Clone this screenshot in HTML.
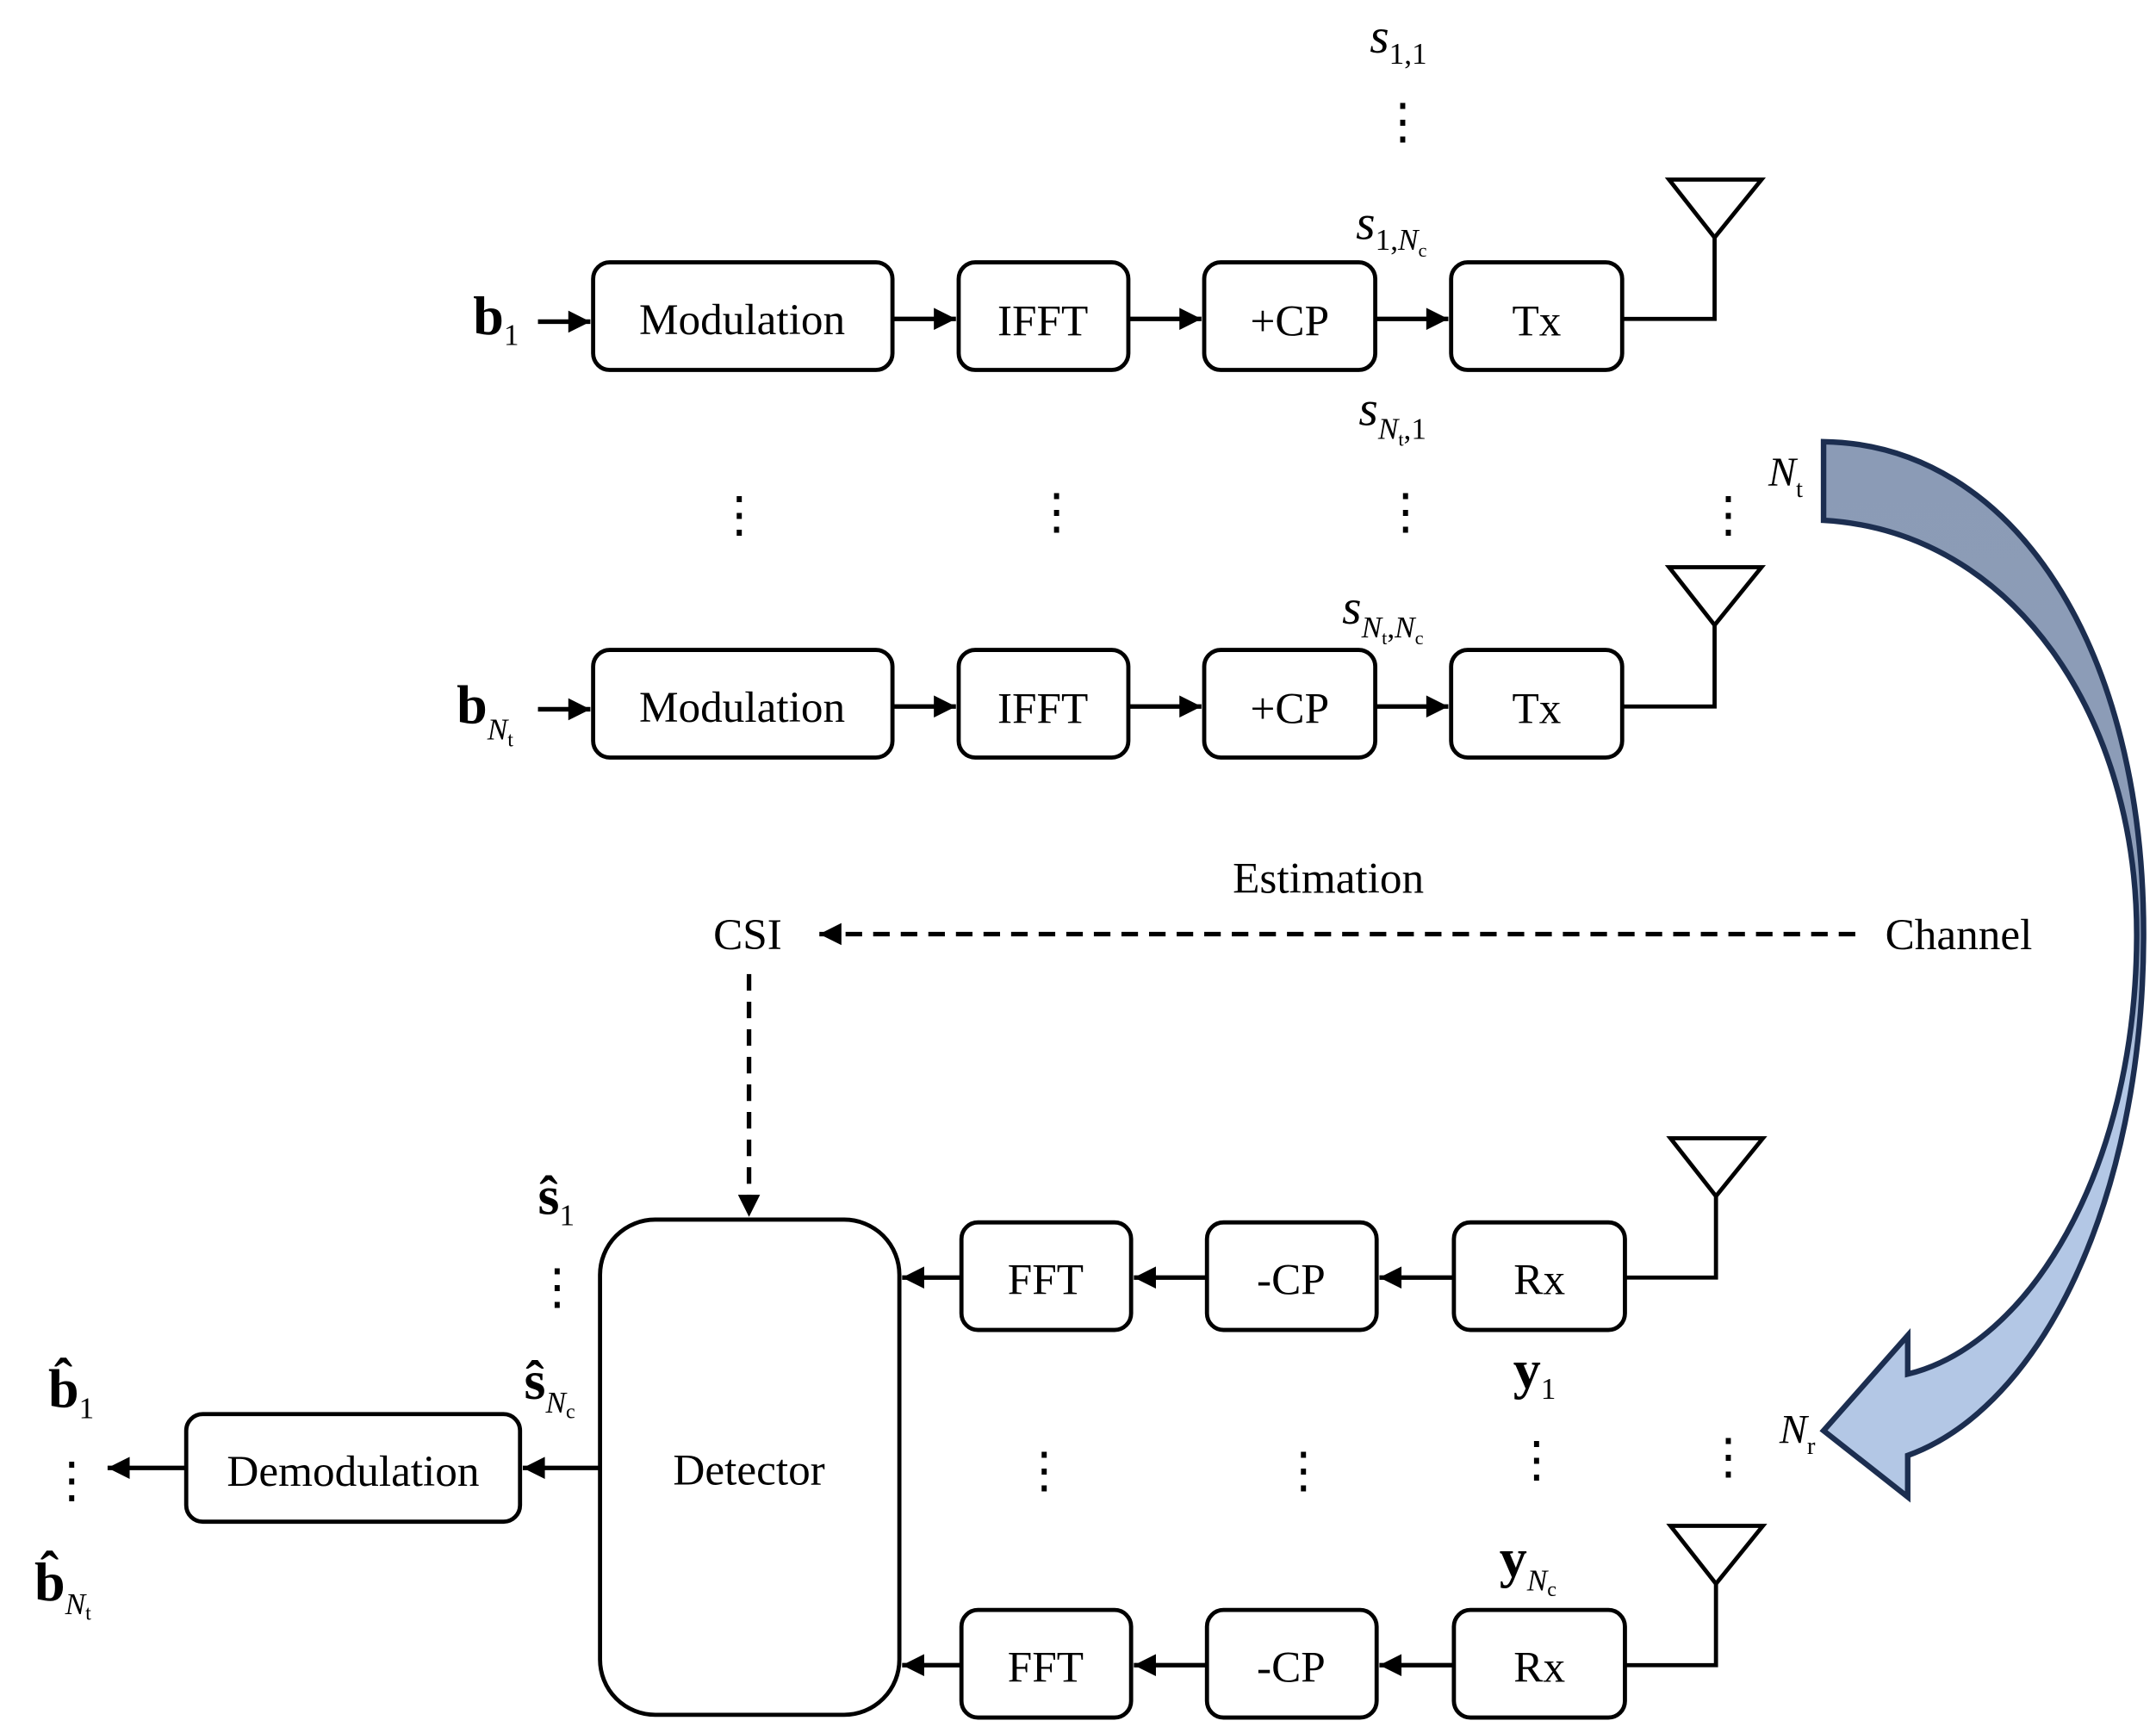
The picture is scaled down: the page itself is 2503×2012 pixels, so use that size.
<!DOCTYPE html>
<html><head><meta charset="utf-8"><style>
html,body{margin:0;padding:0;background:#fff}
svg{display:block}
text{font-family:"Liberation Serif",serif;fill:#000}
.b{font-size:32px}
.m{font-size:36px;font-style:italic}
.bb{font-size:40px;font-weight:bold}
.sub{font-size:22px}
</style></head><body>
<svg width="2503" height="2012" viewBox="0 0 1563 1256" xmlns="http://www.w3.org/2000/svg">
<defs>
<marker id="a2" viewBox="0 0 10 10" refX="10" refY="5" markerWidth="20" markerHeight="16" orient="auto" markerUnits="userSpaceOnUse"><path d="M0,0 L10,5 L0,10 Z" fill="#000"/></marker>
<linearGradient id="g" x1="0" y1="0" x2="0" y2="1"><stop offset="0" stop-color="#8b9bb6"/><stop offset="0.45" stop-color="#8d9db8"/><stop offset="0.6" stop-color="#b3c7e5"/><stop offset="1" stop-color="#b3c7e5"/></linearGradient>
</defs>
<g fill="none" stroke="#000" stroke-width="3">
<rect x="430" y="190" width="217" height="78" rx="12"/>
<rect x="695" y="190" width="123" height="78" rx="12"/>
<rect x="873" y="190" width="124" height="78" rx="12"/>
<rect x="1052" y="190" width="124" height="78" rx="12"/>
<rect x="430" y="471" width="217" height="78" rx="12"/>
<rect x="695" y="471" width="123" height="78" rx="12"/>
<rect x="873" y="471" width="124" height="78" rx="12"/>
<rect x="1052" y="471" width="124" height="78" rx="12"/>
<path d="M1176,231 H1243 V172"/><path d="M1210,130 H1277 L1243,172 Z"/>
<path d="M1176,512 H1243 V453"/><path d="M1210,411 H1277 L1243,453 Z"/>
<rect x="435" y="884" width="217" height="359" rx="40"/>
<rect x="697" y="886" width="123" height="78" rx="12"/>
<rect x="875" y="886" width="123" height="78" rx="12"/>
<rect x="1054" y="886" width="124" height="78" rx="12"/>
<rect x="697" y="1167" width="123" height="78" rx="12"/>
<rect x="875" y="1167" width="123" height="78" rx="12"/>
<rect x="1054" y="1167" width="124" height="78" rx="12"/>
<rect x="135" y="1025" width="242" height="78" rx="12"/>
<path d="M1178,926 H1244 V867"/><path d="M1211,825 H1278 L1244,867 Z"/>
<path d="M1178,1207 H1244 V1148"/><path d="M1211,1106 H1278 L1244,1148 Z"/>
</g>
<g stroke="#000" stroke-width="3.3" marker-end="url(#a2)">
<line x1="390" y1="233" x2="428" y2="233"/>
<line x1="647" y1="231" x2="693" y2="231"/>
<line x1="818" y1="231" x2="871" y2="231"/>
<line x1="997" y1="231" x2="1050" y2="231"/>
<line x1="390" y1="514" x2="428" y2="514"/>
<line x1="647" y1="512" x2="693" y2="512"/>
<line x1="818" y1="512" x2="871" y2="512"/>
<line x1="997" y1="512" x2="1050" y2="512"/>
<line x1="1054" y1="926" x2="1000" y2="926"/>
<line x1="875" y1="926" x2="822" y2="926"/>
<line x1="697" y1="926" x2="654" y2="926"/>
<line x1="1054" y1="1207" x2="1000" y2="1207"/>
<line x1="875" y1="1207" x2="822" y2="1207"/>
<line x1="697" y1="1207" x2="654" y2="1207"/>
<line x1="435" y1="1064" x2="379" y2="1064"/>
<line x1="135" y1="1064" x2="78" y2="1064"/>
<line x1="1345" y1="677" x2="594" y2="677" stroke-dasharray="12,8"/>
<line x1="543" y1="706" x2="543" y2="882" stroke-dasharray="12,8"/>
</g>
<path d="M1322,320 C1460,322 1555,470 1554,680 C1553,870 1480,1020 1383,1055 L1383,1085 L1322,1037 L1383,968 L1383,996 C1470,975 1548,850 1549,680 C1550,520 1460,385 1322,377 Z" fill="url(#g)" stroke="#1c2e50" stroke-width="4" stroke-linejoin="miter"/>
<g class="b" text-anchor="middle">
<text x="538" y="242">Modulation</text><text x="756" y="243">IFFT</text><text x="935" y="243">+CP</text><text x="1114" y="243">Tx</text>
<text x="538" y="523">Modulation</text><text x="756" y="524">IFFT</text><text x="935" y="524">+CP</text><text x="1114" y="524">Tx</text>
<text x="758" y="938">FFT</text><text x="936" y="938">-CP</text><text x="1116" y="938">Rx</text>
<text x="758" y="1219">FFT</text><text x="936" y="1219">-CP</text><text x="1116" y="1219">Rx</text>
<text x="543" y="1076">Detector</text><text x="256" y="1077">Demodulation</text>
<text x="963" y="647">Estimation</text><text x="542" y="688">CSI</text><text x="1420" y="688">Channel</text>
</g>
<g font-size="36" text-anchor="middle" font-family="Liberation Serif">
<text x="1017" y="100">⋮</text>
<text x="536" y="385">⋮</text><text x="766" y="383">⋮</text><text x="1019" y="383">⋮</text><text x="1253" y="385">⋮</text>
<text x="404" y="945">⋮</text><text x="52" y="1085">⋮</text>
<text x="757" y="1078">⋮</text><text x="945" y="1078">⋮</text><text x="1114" y="1070">⋮</text><text x="1253" y="1068">⋮</text>
</g>
<text class="bb" x="343" y="242">b<tspan class="sub" font-weight="normal" dy="8">1</tspan></text>
<text class="bb" x="331" y="524">b<tspan class="sub" font-weight="normal" font-style="italic" dy="12">N</tspan><tspan font-size="15" font-weight="normal" dy="5">t</tspan></text>
<text class="m" x="993" y="38">s<tspan class="sub" font-style="normal" dy="8">1,1</tspan></text>
<text class="m" x="983" y="173">s<tspan class="sub" font-style="normal" dy="8">1,</tspan><tspan class="sub" dy="0">N</tspan><tspan font-size="14" font-style="normal" dy="5">c</tspan></text>
<text class="m" x="985" y="308">s<tspan class="sub" dy="10">N</tspan><tspan font-size="14" font-style="normal" dy="5">t</tspan><tspan class="sub" font-style="normal" dy="-5">,1</tspan></text>
<text class="m" x="973" y="452">s<tspan class="sub" dy="10">N</tspan><tspan font-size="14" font-style="normal" dy="5">t</tspan><tspan class="sub" font-style="normal" dy="-5">,</tspan><tspan class="sub" dy="0">N</tspan><tspan font-size="14" font-style="normal" dy="5">c</tspan></text>
<text x="1282" y="352" font-size="30" font-style="italic">N<tspan font-size="18" font-style="normal" dy="8">t</tspan></text>
<text x="1290" y="1046" font-size="30" font-style="italic">N<tspan font-size="18" font-style="normal" dy="8">r</tspan></text>
<text class="bb" x="1097" y="1006">y<tspan class="sub" font-weight="normal" dy="8">1</tspan></text>
<text class="bb" x="1087" y="1143">y<tspan class="sub" font-weight="normal" font-style="italic" dy="10">N</tspan><tspan font-size="15" font-weight="normal" dy="4">c</tspan></text>
<text class="bb" x="390" y="880">ŝ<tspan class="sub" font-weight="normal" dy="8">1</tspan></text>
<text class="bb" x="380" y="1014">ŝ<tspan class="sub" font-weight="normal" font-style="italic" dy="10">N</tspan><tspan font-size="15" font-weight="normal" dy="4">c</tspan></text>
<text class="bb" x="35" y="1020">b̂<tspan class="sub" font-weight="normal" dy="8">1</tspan></text>
<text class="bb" x="25" y="1160">b̂<tspan class="sub" font-weight="normal" font-style="italic" dy="10">N</tspan><tspan font-size="15" font-weight="normal" dy="4">t</tspan></text>
</svg>
</body></html>
